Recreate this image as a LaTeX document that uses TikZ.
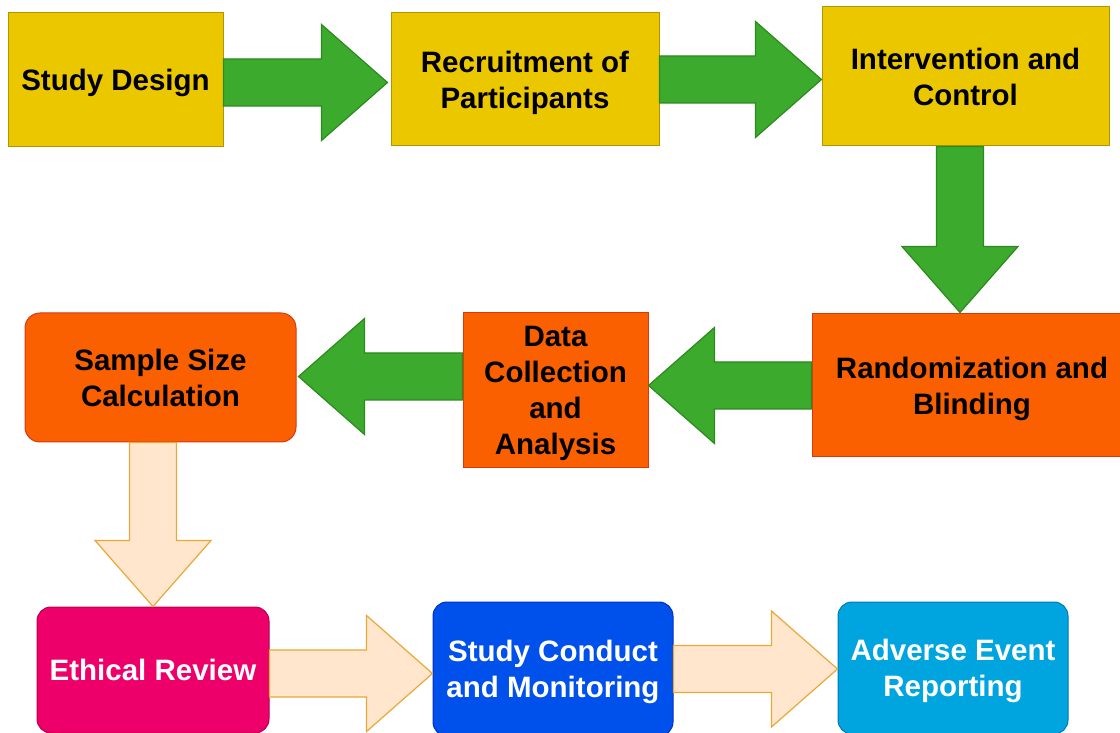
\documentclass[tikz,border=0pt]{standalone}
\usepackage{fontspec}
\setmainfont{Liberation Sans}
\usetikzlibrary{calc}

\definecolor{ylwfill}{HTML}{EBC700}
\definecolor{ylwline}{HTML}{B09500}
\definecolor{orgfill}{HTML}{FA5F00}
\definecolor{orgline}{HTML}{D83A10}
\definecolor{grnfill}{HTML}{3BAA2D}
\definecolor{grnline}{HTML}{2D8A1E}
\definecolor{pchfill}{HTML}{FFE6CC}
\definecolor{pchline}{HTML}{E8A83A}
\definecolor{magfill}{HTML}{EE006A}
\definecolor{magline}{HTML}{B5004E}
\definecolor{blufill}{HTML}{0050EB}
\definecolor{bluline}{HTML}{0030C8}
\definecolor{cyafill}{HTML}{00A5E0}
\definecolor{cyaline}{HTML}{0078B8}

% block arrow: start point on the source edge, tip on the target edge
\newcommand\harr[4]{% style, start, tip, direction (+1 right, -1 left)
  \draw[#1] let \p1=#2, \p2=#3, \n1={\x2-(#4)*66pt} in
    (\x1,\y1-23.5pt) -- (\n1,\y1-23.5pt) -- (\n1,\y1-58pt)
    -- (\x2,\y1) -- (\n1,\y1+58pt) -- (\n1,\y1+23.5pt)
    -- (\x1,\y1+23.5pt) -- cycle;}
\newcommand\varr[3]{% style, start, tip (pointing down)
  \draw[#1] let \p1=#2, \p2=#3 in
    (\x1-23.5pt,\y1) -- (\x1-23.5pt,\y2+66pt) -- (\x1-58pt,\y2+66pt)
    -- (\x1,\y2) -- (\x1+58pt,\y2+66pt) -- (\x1+23.5pt,\y2+66pt)
    -- (\x1+23.5pt,\y1) -- cycle;}

\tikzset{
  box/.style={draw, line width=1pt, inner sep=0pt, align=center, text depth=0pt,
    font=\fontsize{29.5}{36}\selectfont\bfseries},
  ybox/.style={box, fill=ylwfill, draw=ylwline, text=black},
  obox/.style={box, fill=orgfill, draw=orgline, text=black},
  rbox/.style={box, rounded corners=14pt, text=white},
  garrow/.style={fill=grnfill, draw=grnline, line width=1.2pt, line join=miter},
  parrow/.style={fill=pchfill, draw=pchline, line width=1.2pt, line join=miter},
}

\begin{document}
\begin{tikzpicture}[x=1pt, y=1pt]
\useasboundingbox (0,0) rectangle (1120,732);
\clip (0,0) rectangle (1120,732);
\fill[white] (0,0) rectangle (1120,732);

% top row
\node[ybox, minimum width=215, minimum height=134] (sd) at (115.5,652) {Study Design};
\node[ybox, minimum width=268, minimum height=133] (rp) at (525,652.5) {Recruitment of\\Participants};
\node[ybox, minimum width=287, minimum height=139] (ic) at (965.5,655.5) {Intervention and\\Control};

% middle row
\node[obox, minimum width=320, minimum height=143] (rb) at (972,346.5) {Randomization and\\Blinding};
\node[obox, minimum width=185, minimum height=155] (dc) at (555.5,341.5) {Data\\Collection\\and\\Analysis};
\node[obox, rounded corners=15pt, minimum width=271, minimum height=129] (ss) at (160.5,354.5) {Sample Size\\Calculation};

% bottom row
\node[rbox, fill=magfill, draw=magline, minimum width=232, minimum height=126] (er) at (153,62) {Ethical Review};
\node[rbox, fill=blufill, draw=bluline, minimum width=240, minimum height=134] (sc) at (553,63) {Study Conduct\\and Monitoring};
\node[rbox, fill=cyafill, draw=cyaline, minimum width=230, minimum height=132] (ae) at (953,64) {Adverse Event\\Reporting};

% green block arrows
\harr{garrow}{($(sd.east)+(0,-2.5)$)}{($(rp.west)+(-3,0)$)}{1}
\harr{garrow}{(rp.east)}{(ic.west)}{1}
\varr{garrow}{($(ic.south)+(-5.5,0)$)}{($(rb.north)+(0,1)$)}
\harr{garrow}{(rb.west)}{(dc.east)}{-1}
\harr{garrow}{($(dc.west)+(0,14)$)}{($(ss.east)+(2,0)$)}{-1}

% peach block arrows
\varr{parrow}{($(ss.south)+(-7.5,0)$)}{(er.north)}
\harr{parrow}{($(er.east)+(0,-3.5)$)}{(sc.west)}{1}
\harr{parrow}{(sc.east)}{(ae.west)}{1}
\end{tikzpicture}
\end{document}
